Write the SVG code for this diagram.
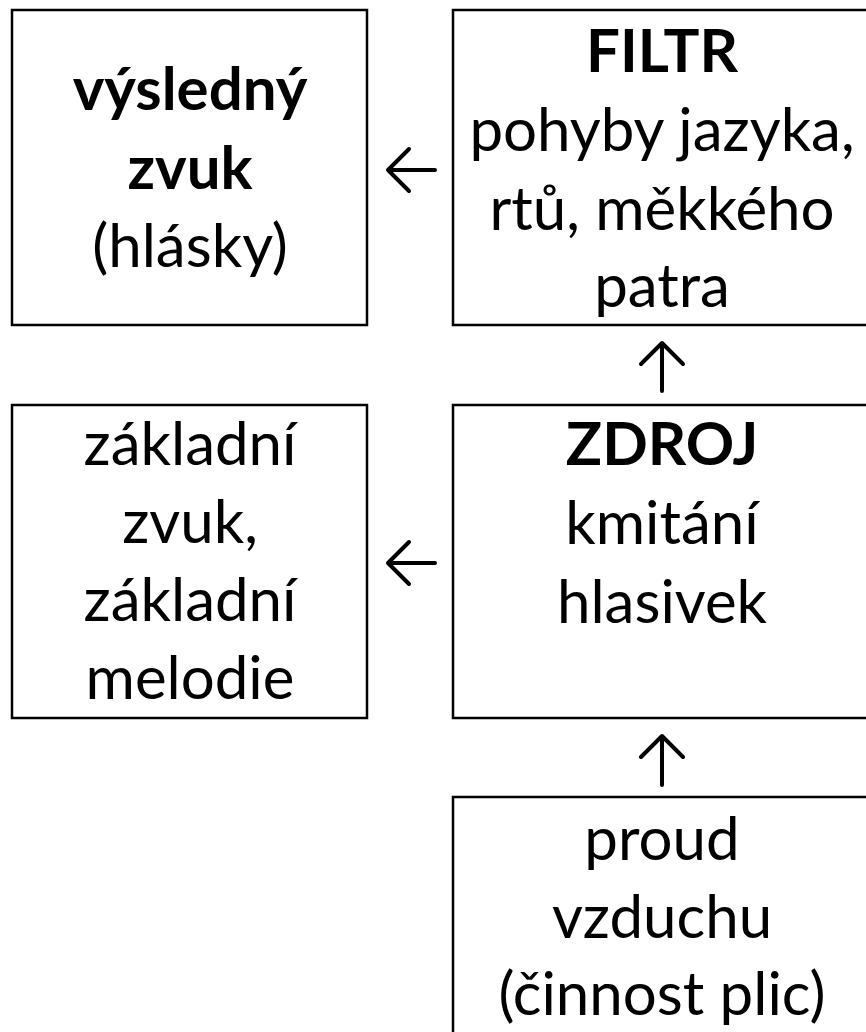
<svg xmlns="http://www.w3.org/2000/svg" width="866" height="1032" viewBox="0 0 866 1032">
<style>
.box{fill:#fff;stroke:#000;stroke-width:2.5}
.t{font-family:Lato,"Open Sans","Liberation Sans",sans-serif;font-size:60px;fill:#000;text-anchor:middle}
.b{font-weight:bold}
.arr{fill:none;stroke:#000;stroke-width:4;stroke-linecap:round;stroke-linejoin:round}
</style>
<rect width="866" height="1032" fill="#fff"/>
<g id="vysledny">
<rect class="box" x="12" y="10" width="355" height="315"/>
<text class="t b" x="190" y="110">výsledný</text>
<text class="t b" x="190" y="189">zvuk</text>
<text class="t" x="190" y="267">(hlásky)</text>
</g>
<g id="filtr">
<rect class="box" x="453" y="10" width="420" height="315"/>
<text class="t b" x="662" y="72">FILTR</text>
<text class="t" x="662" y="151">pohyby jazyka,</text>
<text class="t" x="662" y="230">rtů, měkkého</text>
<text class="t" x="662" y="307">patra</text>
</g>
<g id="zakladni">
<rect class="box" x="12" y="405" width="355" height="313"/>
<text class="t" x="190" y="465">základní</text>
<text class="t" x="190" y="543">zvuk,</text>
<text class="t" x="190" y="621">základní</text>
<text class="t" x="190" y="699">melodie</text>
</g>
<g id="zdroj">
<rect class="box" x="453" y="405" width="420" height="313"/>
<text class="t b" x="662" y="465">ZDROJ</text>
<text class="t" x="662" y="544">kmitání</text>
<text class="t" x="662" y="623">hlasivek</text>
</g>
<g id="proud">
<rect class="box" x="453" y="797" width="420" height="245"/>
<text class="t" x="662" y="860">proud</text>
<text class="t" x="662" y="938">vzduchu</text>
<text class="t" x="662" y="1015">(činnost plic)</text>
</g>
<g id="connectors">
<path class="arr" d="M435 170H388M409 149L388 170L409 191"/>
<path class="arr" d="M435 563H388M409 542L388 563L409 584"/>
<path class="arr" d="M662 391V344M641 364L662 343L683 364"/>
<path class="arr" d="M662 785V737M641 757L662 736L683 757"/>
</g>
</svg>
